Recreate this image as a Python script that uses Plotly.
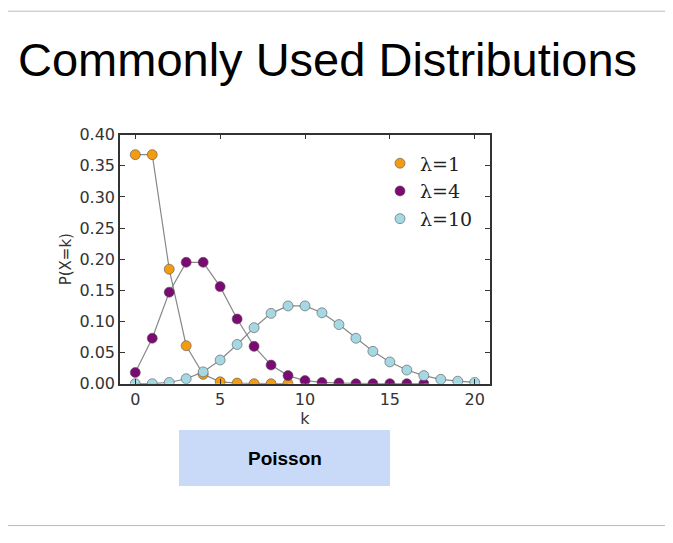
import plotly.graph_objects as go

k1 = list(range(10))
p1 = [0.368, 0.368, 0.184, 0.061, 0.015, 0.003, 0.001, 0.000, 0.000, 0.000]
k4 = list(range(18))
p4 = [0.018, 0.073, 0.147, 0.195, 0.195, 0.156, 0.104, 0.060, 0.030, 0.013,
      0.005, 0.002, 0.001, 0.000, 0.000, 0.000, 0.000, 0.000]
k10 = list(range(21))
p10 = [0.000, 0.000, 0.002, 0.008, 0.019, 0.038, 0.063, 0.090, 0.113, 0.125,
       0.125, 0.114, 0.095, 0.073, 0.052, 0.035, 0.022, 0.013, 0.007, 0.004, 0.002]

series = [("λ=1", k1, p1, "#f39c12"), ("λ=4", k4, p4, "#7b0a73"), ("λ=10", k10, p10, "#a6d8e3")]

# px -> paper coords, compensating the page offset
def px(x):
    return (x - 8) / 673

def py(y):
    return 1 - (y - 8) / 543

fig = go.Figure()
for name, k, p, c in series:
    fig.add_trace(go.Scatter(x=k, y=p, mode="lines", line=dict(color="#888888", width=1.2),
                             showlegend=False, hoverinfo="skip"))
for name, k, p, c in series:
    fig.add_trace(go.Scatter(x=k, y=p, mode="markers", name=name,
                             marker=dict(color=c, size=10, line=dict(color="#555555", width=0.6))))

axis = dict(showgrid=False, zeroline=False, showline=True, linecolor="#333333", linewidth=1.5,
            mirror="ticks", ticks="inside", ticklen=5, tickcolor="#333333",
            tickfont=dict(family="DejaVu Sans", size=16, color="#333333"))
fig.update_xaxes(**axis, range=[-0.9, 20.9], dtick=5, domain=[px(120), px(490)],
                 title=dict(text="k", font=dict(family="DejaVu Sans", size=16, color="#333333"), standoff=0))
fig.update_yaxes(**axis, range=[0, 0.4], dtick=0.05, tickformat=".2f", domain=[py(388), py(130)],
                 title=dict(text="P(X=k)", font=dict(family="DejaVu Sans", size=15, color="#333333"), standoff=4))

fig.update_layout(
    width=673, height=543, margin=dict(l=0, r=0, t=0, b=0),
    plot_bgcolor="white", paper_bgcolor="white",
    legend=dict(x=px(478), y=py(140), xanchor="right", yanchor="top", bgcolor="rgba(0,0,0,0)",
                font=dict(family="DejaVu Serif", size=19, color="#222222")),
    shapes=[
        dict(type="rect", xref="paper", yref="paper", x0=px(2), x1=px(668), y0=py(535), y1=py(2),
             line=dict(color="#bbbbbb", width=1)),
        dict(type="rect", xref="paper", yref="paper", x0=px(179), x1=px(390),
             y0=py(494), y1=py(436), fillcolor="#c9daf8", line=dict(width=0)),
    ],
    annotations=[
        dict(text="Commonly Used Distributions", xref="paper", yref="paper", x=px(16), y=py(52),
             xanchor="left", yanchor="middle", showarrow=False,
             font=dict(family="Liberation Sans", size=47, color="black")),
        dict(text="<b>Poisson</b>", xref="paper", yref="paper", x=px(284.5), y=py(465),
             yanchor="middle", showarrow=False,
             font=dict(family="Liberation Sans", size=19, color="black")),
    ],
)
fig.write_html("out.html")
